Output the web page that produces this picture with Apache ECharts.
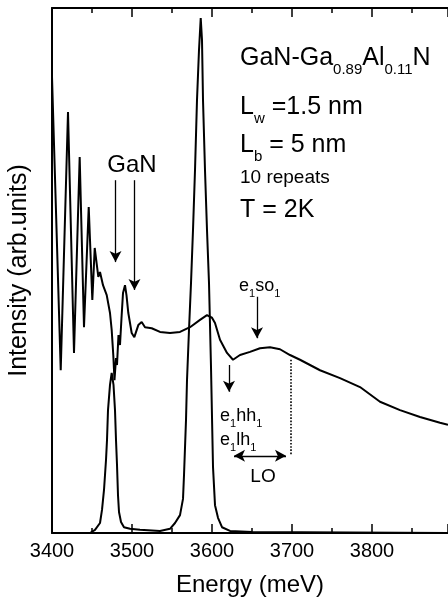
<!DOCTYPE html>
<html>
<head>
<meta charset="utf-8">
<script src="https://cdn.jsdelivr.net/npm/echarts@6/dist/echarts.min.js"></script>
<style>
  html, body { margin: 0; padding: 0; background: #fff; }
  #chart { width: 448px; height: 603px; }
</style>
</head>
<body>
<div id="chart"></div>
<script>
// reflectance-like spectrum (oscillating curve)
var reflE = [3400, 3410.9, 3420, 3427.5, 3434.6, 3440, 3445.9, 3450.4, 3453.4, 3457.9, 3460, 3463.75,
  3468.4, 3472.5, 3474.6, 3476.6, 3478.1, 3480, 3481.25, 3483.1, 3485, 3486.9, 3488.75, 3491.25,
  3493.1, 3495.4, 3499.6, 3502.9, 3507.9, 3512.1, 3516.25, 3524.6, 3535, 3547.5, 3560, 3572.5,
  3585, 3593.75, 3600, 3603.75, 3610, 3618.75, 3626.25, 3635, 3647.5, 3660, 3672.5, 3685,
  3697.5, 3710, 3735, 3760, 3785, 3810, 3835, 3860, 3885, 3895];
var reflI = [86.9, 31.0, 80.2, 34.3, 71.6, 39.2, 62.1, 44.4, 54.3, 48.8, 49.7, 47.2,
  45.3, 41.9, 38.7, 33.9, 29.1, 33.3, 32.0, 37.7, 35.8, 41.0, 45.7, 47.2,
  45.3, 41.9, 38.1, 37.3, 39.6, 40.2, 39.2, 39.0, 38.3, 38.1, 38.3, 39.2,
  40.6, 41.5, 41.0, 40.0, 36.8, 34.3, 33.0, 33.9, 34.5, 35.2, 35.4, 35.0,
  33.9, 33.0, 31.0, 29.5, 27.8, 25.0, 23.4, 22.1, 21.0, 20.6];

// photoluminescence (two sharp peaks)
var plE = [3400, 3440, 3447.5, 3453.75, 3460, 3462.5, 3465, 3467.5, 3468.75, 3470, 3472.5, 3474.6,
  3476.9, 3478.75, 3480, 3481.25, 3482.5, 3483.75, 3486.25, 3490, 3497.5, 3510, 3535, 3547.5,
  3553.75, 3560, 3563.75, 3565, 3567.5, 3568.75, 3571.25, 3573.75, 3576.25, 3578.75, 3581.25, 3583.75,
  3585.9, 3587.5, 3588.75, 3591.25, 3593.75, 3596.25, 3598.75, 3601.25, 3603.75, 3607.5, 3612.5, 3622.5,
  3650, 3895];
var plI = [0, 0, 0, 0.6, 1.9, 4.4, 8.2, 13.9, 17.7, 23.4, 28.2, 30.5,
  28.2, 23.4, 17.7, 13.0, 7.2, 4.0, 2.1, 1.1, 0.8, 0.6, 0.4, 0.8,
  1.9, 3.4, 6.5, 11.0, 21.5, 29.1, 38.7, 47.6, 57.7, 69.1, 82.5, 92.0,
  98.1, 93.9, 82.5, 69.1, 57.7, 47.6, 31.6, 12.6, 5.3, 2.9, 1.1, 0.4,
  0.2, 0];

var xTicks = [3400, 3500, 3600, 3700, 3800];

// annotation arrows [x1, y1, x2, y2] in data units
var arrowsDown = [
  [3479.4, 67.2, 3479.4, 51.6],
  [3503.1, 67.2, 3503.1, 46.3],
  [3656.25, 45.0, 3656.25, 37.1],
  [3621.25, 32.0, 3621.25, 26.9]
];
var loArrow = [3627.5, 14.7, 3692.5, 14.7];
var loDotted = [3698.75, 33.0, 3698.75, 14.7];

function pairs(xs, ys) {
  var out = [];
  for (var i = 0; i < xs.length; i++) out.push([xs[i], ys[i]]);
  return out;
}

var markData = [];
arrowsDown.forEach(function (a) {
  markData.push([{coord: [a[0], a[1]], symbol: 'none'}, {coord: [a[2], a[3]], symbol: 'arrow'}]);
});
markData.push([{coord: [loArrow[0], loArrow[1]], symbol: 'arrow'}, {coord: [loArrow[2], loArrow[3]], symbol: 'arrow'}]);
markData.push([{coord: [loDotted[0], loDotted[1]], symbol: 'none', lineStyle: {type: 'dotted', width: 1.6}},
  {coord: [loDotted[2], loDotted[3]], symbol: 'none'}]);

var FONT = 'Liberation Sans, Arial, sans-serif';
var bigRich = {s: {fontSize: 15, lineHeight: 15, verticalAlign: 'bottom', fontFamily: FONT, fill: '#000'}};
var smallRich = {t: {fontSize: 11, lineHeight: 11, verticalAlign: 'bottom', fontFamily: FONT, fill: '#000'}};

function txt(x, y, s, size, lh, rich, align) {
  return {
    type: 'text', x: x, y: y, silent: true,
    style: {
      text: s, fill: '#000', font: size + 'px ' + FONT, fontSize: size, fontFamily: FONT,
      lineHeight: lh, rich: rich,
      textAlign: align || 'left', textVerticalAlign: 'middle',
      align: align || 'left', verticalAlign: 'middle'
    }
  };
}

var chart = echarts.init(document.getElementById('chart'));
chart.setOption({
  animation: false,
  grid: {left: 52, right: 0, top: 8, bottom: 70, containLabel: false, outerBoundsMode: 'none'},
  xAxis: [{
    type: 'value', min: 3400, max: 3895, interval: 100, position: 'bottom',
    axisLine: {show: true, lineStyle: {color: '#000', width: 2}},
    axisTick: {show: true, inside: true, length: 9, lineStyle: {color: '#000', width: 1.5}},
    minorTick: {show: true, splitNumber: 2, length: 5, lineStyle: {color: '#000', width: 1.5}},
    axisLabel: {color: '#000', fontSize: 20, fontFamily: FONT, margin: 8, showMaxLabel: false,
      formatter: function (v) { return xTicks.indexOf(v) >= 0 ? String(v) : ''; }},
    splitLine: {show: false},
    name: 'Energy (meV)', nameLocation: 'middle', nameGap: 40,
    nameTextStyle: {color: '#000', fontSize: 24, fontFamily: FONT}
  }, {
    type: 'value', min: 3400, max: 3895, interval: 100, position: 'top',
    axisLine: {show: true, lineStyle: {color: '#000', width: 2}},
    axisTick: {show: true, inside: true, length: 9, lineStyle: {color: '#000', width: 1.5}},
    minorTick: {show: true, splitNumber: 2, length: 5, lineStyle: {color: '#000', width: 1.5}},
    axisLabel: {show: false},
    splitLine: {show: false}
  }],
  yAxis: {
    type: 'value', min: 0, max: 100,
    axisLine: {show: true, lineStyle: {color: '#000', width: 2}},
    axisTick: {show: false}, axisLabel: {show: false}, splitLine: {show: false},
    name: 'Intensity (arb.units)', nameLocation: 'middle', nameGap: 20,
    nameTextStyle: {color: '#000', fontSize: 25, fontFamily: FONT}
  },
  series: [{
    name: 'reflectance', type: 'line', data: pairs(reflE, reflI), showSymbol: false,
    lineStyle: {color: '#000', width: 2}, silent: true,
    markLine: {
      silent: true, symbol: ['none', 'arrow'], symbolSize: [9, 11],
      label: {show: false},
      lineStyle: {color: '#000', width: 1.3, type: 'solid'},
      data: markData
    }
  }, {
    name: 'PL', type: 'line', data: pairs(plE, plI), showSymbol: false,
    lineStyle: {color: '#000', width: 2}, silent: true
  }],
  graphic: [
    txt(132, 165, 'GaN', 24, 24, null, 'center'),
    txt(240, 58, 'GaN-Ga{s|0.89}Al{s|0.11}N', 25, 38, bigRich),
    txt(240, 107, 'L{s|w} =1.5 nm', 25, 38, bigRich),
    txt(240, 145, 'L{s|b} = 5 nm', 25, 38, bigRich),
    txt(240, 178, '10 repeats', 19, 19, null),
    txt(240, 210, 'T = 2K', 25, 25, null),
    txt(239, 286, 'e{t|1}so{t|1}', 18, 26, smallRich),
    txt(220, 416, 'e{t|1}hh{t|1}', 18, 26, smallRich),
    txt(220, 440, 'e{t|1}lh{t|1}', 18, 26, smallRich),
    txt(263, 477, 'LO', 19, 19, null, 'center')
  ]
});
</script>
</body>
</html>
